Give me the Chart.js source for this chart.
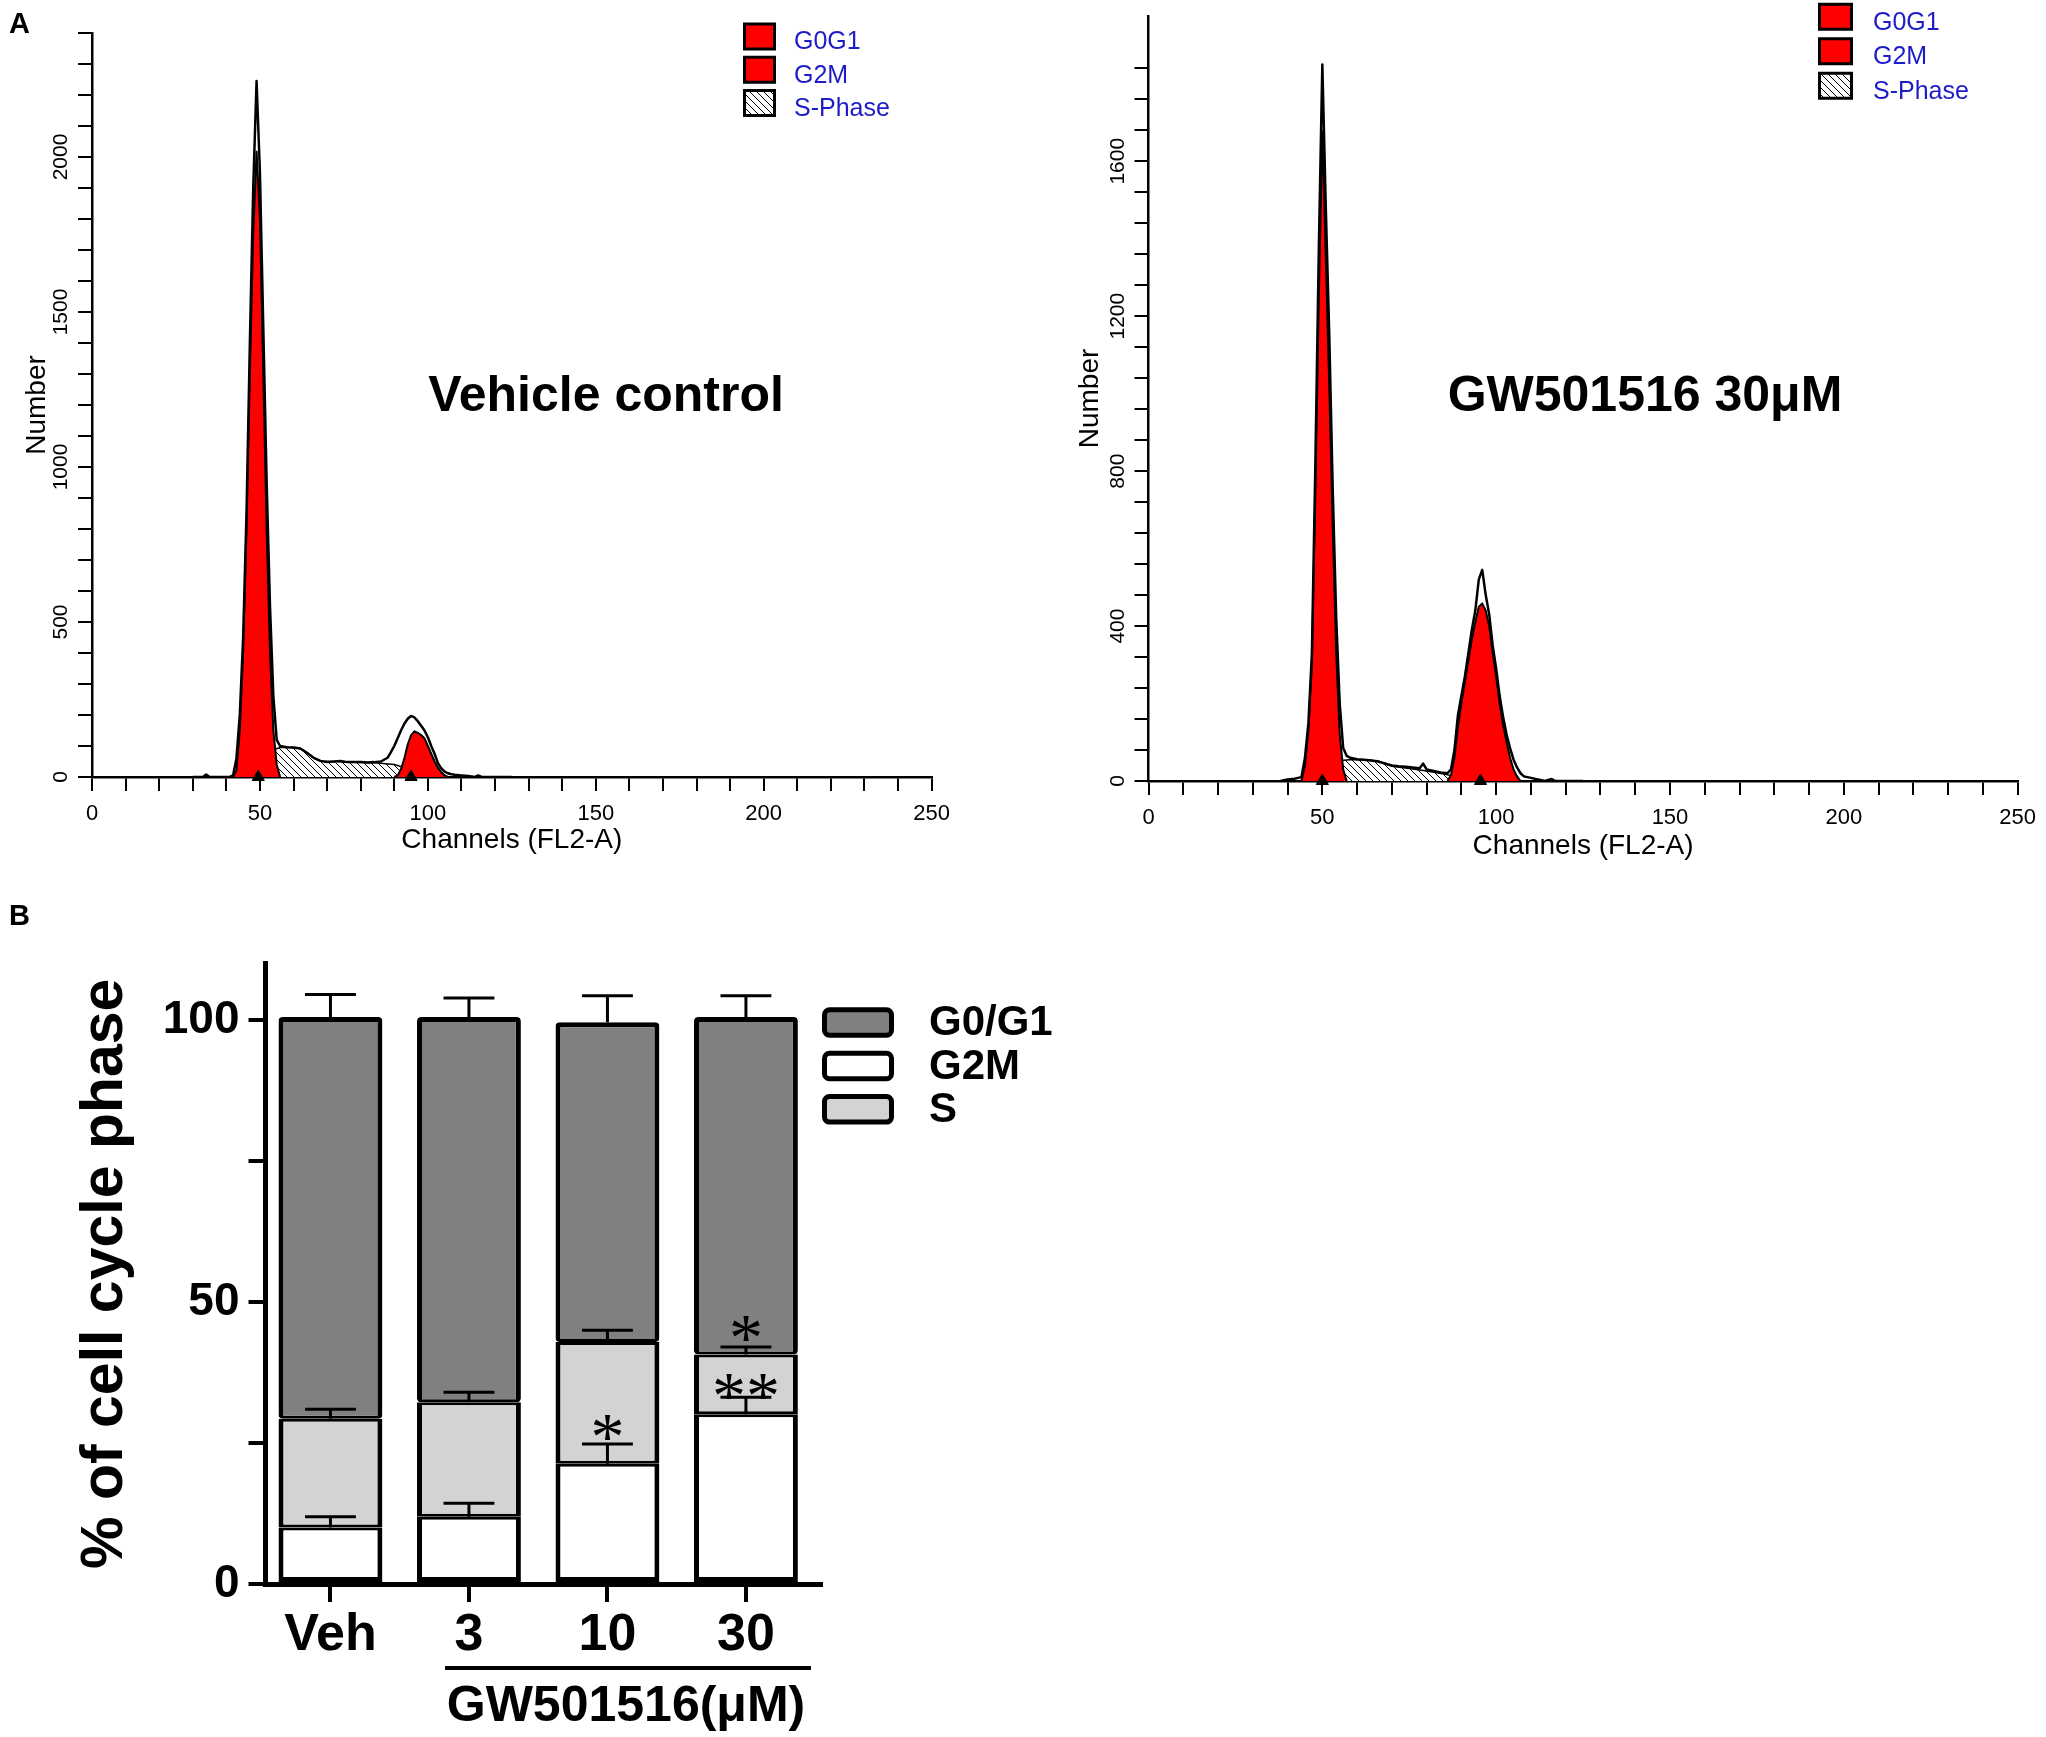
<!DOCTYPE html>
<html><head><meta charset="utf-8">
<script src="https://cdn.jsdelivr.net/npm/chart.js@4.4.1/dist/chart.umd.min.js"></script>
<style>
html,body{margin:0;padding:0;background:#fff;}
body{width:2046px;height:1737px;position:relative;overflow:hidden;font-family:"Liberation Sans",Arial,sans-serif;}
canvas{position:absolute;}
.t{position:absolute;white-space:nowrap;color:#000;font-weight:bold;}
</style></head><body>
<canvas id="h1" width="960" height="870" style="left:0;top:0"></canvas>
<canvas id="h2" width="1006" height="870" style="left:1040px;top:0"></canvas>
<canvas id="bars" width="1100" height="837" style="left:0;top:900px"></canvas>
<div class="t" style="left:9px;top:9px;font-size:29px;line-height:29px;">A</div>
<div class="t" style="left:9px;top:901px;font-size:29px;line-height:29px;">B</div>
<div class="t" style="left:606px;top:369px;font-size:50px;line-height:50px;transform:translateX(-50%);">Vehicle control</div>
<div class="t" style="left:1645px;top:369px;font-size:50px;line-height:50px;transform:translateX(-50%);">GW501516 30μM</div>
<div style="position:absolute;left:445px;top:1666px;width:366px;height:4px;background:#000;"></div>
<div class="t" style="left:626px;top:1679px;font-size:50px;line-height:50px;transform:translateX(-50%);">GW501516(μM)</div>
<script>
// ---------- Panel A: Vehicle control histogram ----------
const vehTotalCh = [30,33,34,35,38,41,42,43,44,45,46,47,48,49,50,51,52,53,54,55,56,58,60,62,64,66,68,70,72,74,76,78,80,82,84,86,88,89,90,91,92,93,94,95,96,97,98,99,100,101,102,103,104,105,106,107,108,110,112,114,115,116,118,125];
const vehTotalN  = [0,0,8,0,0,0,5,60,200,450,850,1400,1900,2245,1950,1450,950,550,260,120,100,96,95,92,78,62,52,48,50,52,48,48,48,47,48,50,62,80,100,125,150,172,188,197,192,180,165,150,128,100,75,45,28,17,12,9,7,5,3,0,5,0,0,0];
const vehG1Ch = [42,43,44,45,46,47,48,49,50,51,52,53,54,55,56];
const vehG1N  = [0,20,150,400,800,1300,1750,2020,1800,1300,800,400,150,40,0];
const vehG2Ch = [90,91,92,93,94,95,96,97,98,99,100,101,102,103,104,105,106];
const vehG2N  = [0,5,25,60,105,135,147,142,135,125,100,75,50,30,15,5,0];
const vehSCh  = [46,48,50,52,54,56,60,62,64,66,68,75,85,90,93,96,100];
const vehSN   = [0,10,35,65,88,95,95,92,78,62,52,48,45,40,30,18,0];
const vehPeakCh = [49.5,95];
const vehPeakN  = [0,0];

// ---------- Panel A: GW501516 30uM histogram ----------
const gwTotalCh = [38,40,42,43,44,45,46,47,48,49,50,51,52,53,54,55,56,57,58,60,62,64,66,68,70,72,74,76,78,79,80,82,84,86,87,88,89,90,91,92,93,94,95,96,97,98,99,100,101,102,103,104,105,106,107,108,110,112,114,116,117,118,125];
const gwTotalN  = [0,4,6,8,10,60,150,330,820,1380,1850,1480,1150,750,420,200,85,65,60,56,55,53,50,45,40,38,37,35,33,45,30,26,22,20,30,80,170,220,270,330,390,440,520,545,480,430,350,290,220,165,120,85,55,35,20,12,8,4,0,5,0,0,0];
const gwG1Ch = [44,45,46,47,48,49,50,51,52,53,54,55,56,57];
const gwG1N  = [0,40,130,300,750,1250,1680,1350,1020,650,330,120,30,0];
const gwG2Ch = [86,87,88,89,90,91,92,93,94,95,96,97,98,99,100,101,102,103,104,105,106,107];
const gwG2N  = [0,15,60,140,200,255,310,365,410,450,458,440,400,330,270,200,145,100,60,30,12,0];
const gwSCh  = [47,49,51,53,55,58,62,66,70,75,80,85,88,92];
const gwSN   = [0,15,35,50,53,55,55,52,38,32,26,18,12,0];
const gwPeakCh = [50,95.5];
const gwPeakN  = [0,0];

const histLegend = ['G0G1','G2M','S-Phase'];

// ---------- Panel B: stacked bars ----------
const barCats = ['Veh','3','10','30'];
const g2m     = [10.0, 11.9, 21.3, 30.1];
const g2mErr  = [1.9, 2.4, 3.5, 3.0];
const sPhase  = [19.3, 20.3, 21.6, 10.6];
const sErr    = [1.7, 1.8, 2.1, 1.3];
const g0g1    = [71.2, 68.3, 56.7, 59.8];
const g0g1Err = [4.0, 3.4, 4.7, 3.8];
const barLegend = ['G0/G1','G2M','S'];
const sigCats   = ['10','30','30'];
const sigValues = [28.0, 35.3, 45.6];
const sigTexts  = ['*','**','*'];

const FAM = '"Liberation Sans", Arial, sans-serif';
Chart.defaults.font.family = FAM;
Chart.defaults.color = '#000';

const xy = (xs, ys) => xs.map((x, i) => ({x: x, y: ys[i]}));

const hatch = (function () {
  const c = document.createElement('canvas'); c.width = 7; c.height = 7;
  const g = c.getContext('2d');
  g.fillStyle = '#fff'; g.fillRect(0, 0, 7, 7);
  g.strokeStyle = '#000'; g.lineWidth = 1;
  g.beginPath();
  g.moveTo(-1, -1); g.lineTo(8, 8);
  g.moveTo(-1, 6); g.lineTo(1, 8);
  g.moveTo(6, -1); g.lineTo(8, 1);
  g.stroke();
  return g.createPattern(c, 'repeat');
})();

const boxLegend = {
  id: 'boxLegend',
  afterDraw(chart, args, o) {
    const ctx = chart.ctx;
    ctx.save();
    o.items.forEach((label, k) => {
      const ds = chart.data.datasets.find(d => d.label === label);
      const top = o.y + k * o.step;
      const lw = o.lineWidth;
      ctx.beginPath();
      if (o.radius && ctx.roundRect) ctx.roundRect(o.x + lw / 2, top + lw / 2, o.w - lw, o.h - lw, o.radius);
      else ctx.rect(o.x + lw / 2, top + lw / 2, o.w - lw, o.h - lw);
      ctx.fillStyle = ds.backgroundColor; ctx.fill();
      ctx.lineWidth = lw; ctx.strokeStyle = '#000'; ctx.stroke();
      ctx.fillStyle = o.color; ctx.font = o.font;
      ctx.textBaseline = 'middle'; ctx.textAlign = 'left';
      ctx.fillText(label, o.textX, top + o.h / 2 + o.textDy);
    });
    ctx.restore();
  }
};

function makeHist(id, d, cfg) {
  const tickFont = {family: FAM, size: 22};
  return new Chart(document.getElementById(id), {
    type: 'line',
    data: {
      datasets: [
        {label: 'S-Phase', data: xy(d.sCh, d.sN), backgroundColor: hatch, borderColor: '#000', borderWidth: 1.5, fill: 'origin', pointRadius: 0, tension: 0, order: 5},
        {label: 'G0G1', data: xy(d.g1Ch, d.g1N), backgroundColor: '#ff0000', borderColor: '#000', borderWidth: 2, fill: 'origin', pointRadius: 0, tension: 0, order: 4},
        {label: 'G2M', data: xy(d.g2Ch, d.g2N), backgroundColor: '#ff0000', borderColor: '#000', borderWidth: 2, fill: 'origin', pointRadius: 0, tension: 0, order: 3},
        {label: 'Data', data: xy(d.totCh, d.totN), borderColor: '#000', borderWidth: 2.5, fill: false, pointRadius: 0, tension: 0, borderJoinStyle: 'round', order: 2},
        {label: 'Peaks', data: xy(d.pkCh, d.pkN), showLine: false, pointStyle: 'triangle', pointRadius: 7, backgroundColor: '#000', borderColor: '#000', clip: false, order: 1}
      ]
    },
    options: {
      responsive: false, animation: false, devicePixelRatio: 1,
      layout: {padding: {top: cfg.top, right: cfg.right, left: 0, bottom: 0}},
      plugins: {
        legend: {display: false}, tooltip: {enabled: false},
        boxLegend: {items: histLegend, x: cfg.lx, y: cfg.ly, w: cfg.lw, h: 28, step: cfg.lstep, lineWidth: 3, radius: 0, textX: cfg.ltx, textDy: 6, font: '25px ' + FAM, color: '#1c1cc8'}
      },
      scales: {
        x: {
          type: 'linear', min: 0, max: 250,
          ticks: {stepSize: 10, autoSkip: false, maxRotation: 0, padding: 10, font: tickFont, color: '#000',
                  callback: v => (v % 50 === 0 ? String(v) : '')},
          grid: {drawOnChartArea: false, drawTicks: true, tickLength: 14, tickColor: '#000', tickWidth: 2, lineWidth: 2},
          border: {display: true, color: '#000', width: 2.5},
          title: {display: true, text: 'Channels (FL2-A)', font: {family: FAM, size: 28}, color: '#000', padding: {top: 0, bottom: cfg.xtpb}},
          afterFit: s => { s.height = cfg.xh; }
        },
        y: {
          type: 'linear', min: 0, max: cfg.ymax,
          ticks: {stepSize: cfg.ystep, autoSkip: false, minRotation: 90, maxRotation: 90, crossAlign: 'center', padding: -7,
                  font: {family: FAM, size: 21}, color: '#000',
                  callback: v => (v % cfg.ylab === 0 ? String(v) : '')},
          grid: {drawOnChartArea: false, drawTicks: true, tickLength: 14, tickWidth: 2, lineWidth: 2,
                 tickColor: c => (c.tick && c.tick.value % cfg.ystep === 0 ? '#000' : 'rgba(0,0,0,0)')},
          border: {display: true, color: '#000', width: 2.5},
          title: {display: true, text: 'Number', font: {family: FAM, size: 28}, color: '#000', padding: {top: cfg.ytpt}},
          afterFit: s => { s.width = cfg.yw; }
        }
      }
    },
    plugins: [boxLegend]
  });
}

makeHist('h1',
  {sCh: vehSCh, sN: vehSN, g1Ch: vehG1Ch, g1N: vehG1N, g2Ch: vehG2Ch, g2N: vehG2N, totCh: vehTotalCh, totN: vehTotalN, pkCh: vehPeakCh, pkN: vehPeakN},
  {top: 33, right: 21, xh: 93, yw: 92, ymax: 2400, ystep: 100, ylab: 500, xtpb: 13, ytpt: 20, lx: 743, ly: 22.5, lw: 33, lstep: 33.3, ltx: 794});

makeHist('h2',
  {sCh: gwSCh, sN: gwSN, g1Ch: gwG1Ch, g1N: gwG1N, g2Ch: gwG2Ch, g2N: gwG2N, totCh: gwTotalCh, totN: gwTotalN, pkCh: gwPeakCh, pkN: gwPeakN},
  {top: 16, right: 21, xh: 89, yw: 108.5, ymax: 1975, ystep: 80, ylab: 400, xtpb: 7, ytpt: 33, lx: 778, ly: 2.7, lw: 35, lstep: 34.5, ltx: 833});

// ---------- Panel B chart ----------
const errorBars = {
  id: 'errorBars',
  afterDatasetsDraw(chart, args, o) {
    const ctx = chart.ctx, y = chart.scales.y;
    ctx.save(); ctx.strokeStyle = '#000'; ctx.lineWidth = o.lineWidth;
    chart.data.datasets.forEach((ds, i) => {
      if (!ds.errors) return;
      chart.getDatasetMeta(i).data.forEach((bar, j) => {
        const topVal = y.getValueForPixel(bar.y);
        const yEnd = y.getPixelForValue(topVal + ds.errors[j]);
        const half = bar.width * o.capRatio / 2;
        ctx.beginPath();
        ctx.moveTo(bar.x, bar.y); ctx.lineTo(bar.x, yEnd);
        ctx.moveTo(bar.x - half, yEnd); ctx.lineTo(bar.x + half, yEnd);
        ctx.stroke();
      });
    });
    ctx.restore();
  }
};
const sigMarks = {
  id: 'sigMarks',
  afterDatasetsDraw(chart, args, o) {
    const ctx = chart.ctx, x = chart.scales.x, y = chart.scales.y;
    ctx.save(); ctx.fillStyle = '#000'; ctx.font = o.font;
    ctx.textAlign = 'center'; ctx.textBaseline = 'alphabetic';
    sigCats.forEach((c, k) => {
      const px = x.getPixelForValue(barCats.indexOf(c));
      const py = y.getPixelForValue(sigValues[k]);
      ctx.fillText(sigTexts[k], px, py + o.shift);
    });
    ctx.restore();
  }
};

const bw = (t, b) => ({top: t, bottom: b, left: 5, right: 5});
const pts = vals => vals.map((v, i) => ({x: i, y: v}));
new Chart(document.getElementById('bars'), {
  type: 'bar',
  data: {
    datasets: [
      {label: 'G2M', data: pts(g2m), errors: g2mErr, backgroundColor: '#ffffff', borderColor: '#000', borderWidth: bw(3, 5), borderSkipped: false, barPercentage: 0.75, categoryPercentage: 1},
      {label: 'S', data: pts(sPhase), errors: sErr, backgroundColor: '#d3d3d3', borderColor: '#000', borderWidth: bw(3, 3), borderSkipped: false, barPercentage: 0.75, categoryPercentage: 1},
      {label: 'G0/G1', data: pts(g0g1), errors: g0g1Err, backgroundColor: '#808080', borderColor: '#000', borderWidth: bw(5, 3), borderSkipped: false, borderRadius: 4, barPercentage: 0.75, categoryPercentage: 1}
    ]
  },
  options: {
    responsive: false, animation: false, devicePixelRatio: 1,
    layout: {padding: {top: 63.5, right: 279, left: 0, bottom: 0}},
    plugins: {
      legend: {display: false}, tooltip: {enabled: false},
      boxLegend: {items: barLegend, x: 822, y: 107.3, w: 72, h: 30.5, step: 43.4, lineWidth: 5, radius: 5, textX: 929, textDy: 1, font: 'bold 42px ' + FAM, color: '#000'},
      errorBars: {lineWidth: 3, capRatio: 0.49},
      sigMarks: {font: '68px "Liberation Serif", "Times New Roman", serif', shift: 33}
    },
    scales: {
      x: {
        type: 'linear', stacked: true, min: -0.469, max: 3.542, offset: false,
        ticks: {stepSize: 1, includeBounds: false, autoSkip: false, maxRotation: 0,
                font: {family: FAM, size: 52, weight: 'bold'}, color: '#000', padding: 2,
                callback: v => (barCats[v] !== undefined ? barCats[v] : '')},
        grid: {drawOnChartArea: false, offset: false, drawTicks: true, tickLength: 18, tickWidth: 4, lineWidth: 4, tickColor: '#000'},
        border: {display: true, color: '#000', width: 5},
        afterFit: s => { s.height = 153; }
      },
      y: {
        stacked: true, min: 0, max: 110,
        ticks: {stepSize: 25, autoSkip: false, padding: 9, font: {family: FAM, size: 46, weight: 'bold'}, color: '#000',
                callback: v => (v % 50 === 0 ? String(v) : '')},
        grid: {drawOnChartArea: false, drawTicks: true, tickLength: 17, tickWidth: 4, lineWidth: 4,
               tickColor: c => (c.tick && c.tick.value % 25 === 0 ? '#000' : 'rgba(0,0,0,0)')},
        border: {display: true, color: '#000', width: 5},
        title: {display: true, text: '% of cell cycle phase', font: {family: FAM, size: 59, weight: 'bold'}, color: '#000', padding: {top: 70}},
        afterFit: s => { s.width = 265.5; }
      }
    }
  },
  plugins: [errorBars, sigMarks, boxLegend]
});
</script>
</body></html>
